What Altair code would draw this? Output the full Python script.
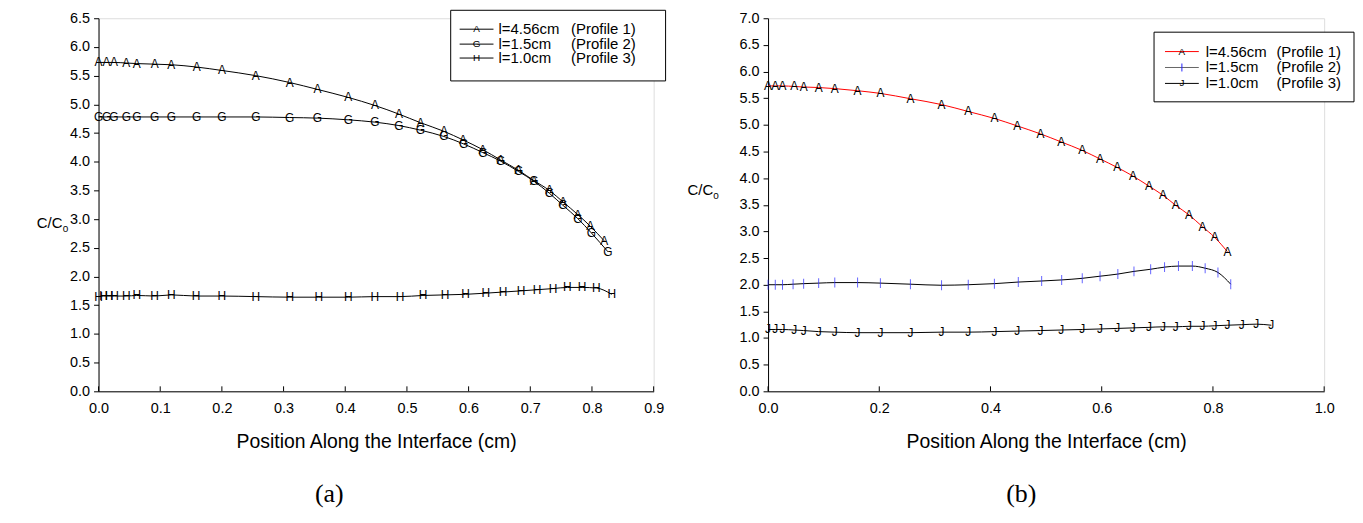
import altair as alt
import pandas as pd

FONT = "Liberation Sans"

# ---------------- data: panel (a) ----------------
a_p1_x = [0.0, 0.013, 0.025, 0.045, 0.062, 0.091, 0.118, 0.159, 0.200, 0.255, 0.310, 0.355, 0.405, 0.448,
          0.487, 0.522, 0.560, 0.591, 0.623, 0.652, 0.681, 0.706, 0.731, 0.753, 0.777, 0.797, 0.820]
a_p1_y = [5.73, 5.73, 5.73, 5.72, 5.71, 5.70, 5.69, 5.65, 5.59, 5.50, 5.38, 5.26, 5.12, 4.98,
          4.83, 4.68, 4.53, 4.38, 4.21, 4.03, 3.85, 3.67, 3.50, 3.30, 3.08, 2.88, 2.62]
a_p2_x = [0.0, 0.013, 0.025, 0.045, 0.062, 0.091, 0.118, 0.159, 0.200, 0.255, 0.310, 0.355, 0.405, 0.448,
          0.487, 0.522, 0.560, 0.592, 0.623, 0.652, 0.681, 0.706, 0.731, 0.753, 0.777, 0.799, 0.826]
a_p2_y = [4.78, 4.78, 4.78, 4.78, 4.78, 4.78, 4.78, 4.78, 4.78, 4.78, 4.77, 4.76, 4.73, 4.69,
          4.63, 4.55, 4.44, 4.31, 4.16, 4.01, 3.83, 3.66, 3.45, 3.24, 3.01, 2.76, 2.43]
a_p3_x = [0.0, 0.008, 0.017, 0.026, 0.045, 0.062, 0.091, 0.118, 0.158, 0.200, 0.255, 0.310, 0.357, 0.405,
          0.448, 0.489, 0.526, 0.562, 0.595, 0.628, 0.656, 0.685, 0.711, 0.737, 0.760, 0.784, 0.807, 0.832]
a_p3_y = [1.65, 1.66, 1.66, 1.66, 1.66, 1.67, 1.66, 1.68, 1.66, 1.66, 1.65, 1.64, 1.64, 1.64,
          1.65, 1.65, 1.67, 1.68, 1.69, 1.71, 1.73, 1.75, 1.77, 1.79, 1.81, 1.81, 1.80, 1.69]

# ---------------- data: panel (b) ----------------
b_p1_x = [0.0, 0.013, 0.026, 0.047, 0.064, 0.091, 0.120, 0.161, 0.202, 0.256, 0.312, 0.360, 0.407, 0.448,
          0.490, 0.527, 0.565, 0.597, 0.628, 0.656, 0.685, 0.710, 0.733, 0.757, 0.781, 0.803, 0.826]
b_p1_y = [5.73, 5.73, 5.73, 5.72, 5.71, 5.70, 5.68, 5.64, 5.59, 5.49, 5.38, 5.25, 5.12, 4.98,
          4.83, 4.68, 4.52, 4.36, 4.20, 4.04, 3.85, 3.68, 3.49, 3.31, 3.09, 2.89, 2.62]
b_p2_x = [0.0, 0.013, 0.026, 0.045, 0.064, 0.091, 0.120, 0.161, 0.202, 0.256, 0.312, 0.360, 0.407, 0.450,
          0.492, 0.528, 0.565, 0.597, 0.629, 0.658, 0.688, 0.713, 0.738, 0.763, 0.786, 0.809, 0.832]
b_p2_y = [2.00, 2.00, 2.00, 2.01, 2.02, 2.03, 2.04, 2.04, 2.03, 2.01, 1.99, 2.00, 2.02, 2.05,
          2.07, 2.09, 2.12, 2.16, 2.20, 2.25, 2.29, 2.33, 2.35, 2.35, 2.31, 2.23, 2.01]
b_p3_x = [0.0, 0.013, 0.026, 0.047, 0.064, 0.091, 0.120, 0.161, 0.202, 0.256, 0.312, 0.360, 0.407, 0.448,
          0.490, 0.527, 0.565, 0.597, 0.628, 0.656, 0.685, 0.710, 0.733, 0.757, 0.781, 0.803, 0.826,
          0.852, 0.878, 0.905]
b_p3_y = [1.16, 1.16, 1.16, 1.15, 1.14, 1.12, 1.11, 1.10, 1.10, 1.10, 1.11, 1.11, 1.12, 1.13,
          1.14, 1.15, 1.16, 1.17, 1.18, 1.19, 1.20, 1.21, 1.21, 1.22, 1.22, 1.23, 1.24,
          1.25, 1.26, 1.24]

series_len = ["l=4.56cm", "l=1.5cm", "l=1.0cm"]
series_prof = ["(Profile 1)", "(Profile 2)", "(Profile 3)"]
a_markers = ["A", "G", "H"]
b_markers = ["A", "|", "J"]

a_xticks = [0.0, 0.1, 0.2, 0.3, 0.4, 0.5, 0.6, 0.7, 0.8, 0.9]
a_yticks = [0.0, 0.5, 1.0, 1.5, 2.0, 2.5, 3.0, 3.5, 4.0, 4.5, 5.0, 5.5, 6.0, 6.5]
b_xticks = [0.0, 0.2, 0.4, 0.6, 0.8, 1.0]
b_yticks = [0.0, 0.5, 1.0, 1.5, 2.0, 2.5, 3.0, 3.5, 4.0, 4.5, 5.0, 5.5, 6.0, 6.5, 7.0]

H = 375
LBL = 14.5
LEG = 15
MK = 12


def make_df(xs, ys, name, marker):
    return pd.DataFrame({"x": xs, "y": ys, "series": name, "m": marker})


one = pd.DataFrame({"k": [0]})


def ylabel(xoff, yoff):
    t1 = alt.Chart(one).mark_text(text="C/C", font=FONT, fontSize=15, align="left",
                                  baseline="middle", color="black").encode(
        x=alt.value(xoff), y=alt.value(yoff))
    t2 = alt.Chart(one).mark_text(text="0", font=FONT, fontSize=10, align="left",
                                  baseline="middle", color="black").encode(
        x=alt.value(xoff + 26), y=alt.value(yoff + 6))
    return [t1, t2]


def legend(x0, x1, y0, y1, rows, line_colors, mark_colors, markers, lx0, lx1, tx, px):
    layers = [alt.Chart(one).mark_rect(fill="white", stroke="black", strokeWidth=1).encode(
        x=alt.value(x0), x2=alt.value(x1), y=alt.value(y0), y2=alt.value(y1))]
    for i in range(3):
        yy = rows[i]
        layers.append(alt.Chart(one).mark_rule(color=line_colors[i], strokeWidth=1).encode(
            x=alt.value(lx0), x2=alt.value(lx1), y=alt.value(yy)))
        if markers[i] == "|":
            layers.append(alt.Chart(one).mark_rule(color=mark_colors[i], strokeWidth=1).encode(
                x=alt.value((lx0 + lx1) / 2), y=alt.value(yy - 4), y2=alt.value(yy + 4)))
        else:
            layers.append(alt.Chart(one).mark_text(text=markers[i], font=FONT, fontSize=10,
                                                   color=mark_colors[i], align="center",
                                                   baseline="middle").encode(
                x=alt.value((lx0 + lx1) / 2), y=alt.value(yy)))
        layers.append(alt.Chart(one).mark_text(text=series_len[i], font=FONT, fontSize=LEG,
                                               color="black", align="left",
                                               baseline="middle").encode(
            x=alt.value(tx), y=alt.value(yy)))
        layers.append(alt.Chart(one).mark_text(text=series_prof[i], font=FONT, fontSize=LEG,
                                               color="black", align="left",
                                               baseline="middle").encode(
            x=alt.value(px), y=alt.value(yy)))
    return layers


def panel(dfs, xdom, ydom, xticks, yticks, line_colors, mark_colors):
    xs = alt.Scale(domain=xdom, nice=False, zero=False)
    ys = alt.Scale(domain=ydom, nice=False, zero=False)
    xaxis = alt.Axis(values=xticks, format=".1f", tickSize=0, labelPadding=10,
                     title="Position Along the Interface (cm)", titlePadding=18,
                     titleFont=FONT, titleFontSize=19.5, titleFontWeight="normal", titleColor="black",
                     labelFont=FONT, labelFontSize=LBL, labelColor="black",
                     domainColor="black", grid=False, labelFlush=False)
    yaxis = alt.Axis(values=yticks, format=".1f", tickSize=5, tickColor="black", labelPadding=4,
                     title=None, labelFont=FONT, labelFontSize=LBL, labelColor="black",
                     domainColor="black", grid=False)
    X = alt.X("x:Q", scale=xs, axis=xaxis)
    Y = alt.Y("y:Q", scale=ys, axis=yaxis)
    layers = []
    for df, lc in zip(dfs, line_colors):
        layers.append(alt.Chart(df).mark_line(interpolate="monotone", color=lc, strokeWidth=1)
                      .encode(x=X, y=Y))
    for df, mc in zip(dfs, mark_colors):
        if df["m"].iloc[0] == "|":
            mk = alt.Chart(df).mark_tick(orient="vertical", color=mc, thickness=1, size=10).encode(
                x=X, y=Y)
        else:
            mk = alt.Chart(df).mark_text(font=FONT, fontSize=MK, color=mc, align="center",
                                         baseline="middle").encode(x=X, y=Y, text="m:N")
        layers.append(mk)
    tk = alt.Chart(pd.DataFrame({"x": xticks})).mark_rule(color="black", strokeWidth=1).encode(
        x=X, y=alt.value(H - 5), y2=alt.value(H))
    layers.append(tk)
    return layers


dfa = [make_df(a_p1_x, a_p1_y, "p1", a_markers[0]),
       make_df(a_p2_x, a_p2_y, "p2", a_markers[1]),
       make_df(a_p3_x, a_p3_y, "p3", a_markers[2])]
dfb = [make_df(b_p1_x, b_p1_y, "p1", b_markers[0]),
       make_df(b_p2_x, b_p2_y, "p2", b_markers[1]),
       make_df(b_p3_x, b_p3_y, "p3", b_markers[2])]

WA = 558
WB = 559

left_layers = panel(dfa, [0, 0.9], [0, 6.5], a_xticks, a_yticks,
                    ["black", "black", "black"], ["black", "black", "black"])
left_layers += ylabel(-62, 206)
left_layers += legend(354, 570, -8, 63, [11, 26, 40], ["black", "black", "black"],
                      ["black", "black", "black"], a_markers, 363, 397, 402, 475)
left_layers.append(alt.Chart(one).mark_text(text="(a)", font="Liberation Serif", fontSize=26,
                                            color="black", align="center", baseline="middle").encode(
    x=alt.value(WA / 2 - 47), y=alt.value(H + 103)))

right_layers = panel(dfb, [0, 1.0], [0, 7.0], b_xticks, b_yticks,
                     ["red", "black", "black"], ["black", "#2222ff", "black"])
right_layers += ylabel(-81, 173)
right_layers += legend(388, 589, 14, 84, [33.5, 49.5, 65.5], ["red", "#666666", "black"],
                       ["black", "#2222ff", "black"], b_markers, 399, 433, 440, 511)
right_layers.append(alt.Chart(one).mark_text(text="(b)", font="Liberation Serif", fontSize=26,
                                             color="black", align="center", baseline="middle").encode(
    x=alt.value(WB / 2 - 25), y=alt.value(H + 103)))

left = alt.layer(*left_layers).properties(width=WA, height=H)
right = alt.layer(*right_layers).properties(width=WB, height=H)

chart = alt.hconcat(left, right, spacing=20).properties(
    padding={"left": 28, "top": 0, "right": 0, "bottom": 0}
).configure_view(strokeWidth=0).configure(background="white")

chart.save("out.html", embed_options={"renderer": "svg", "actions": False})
